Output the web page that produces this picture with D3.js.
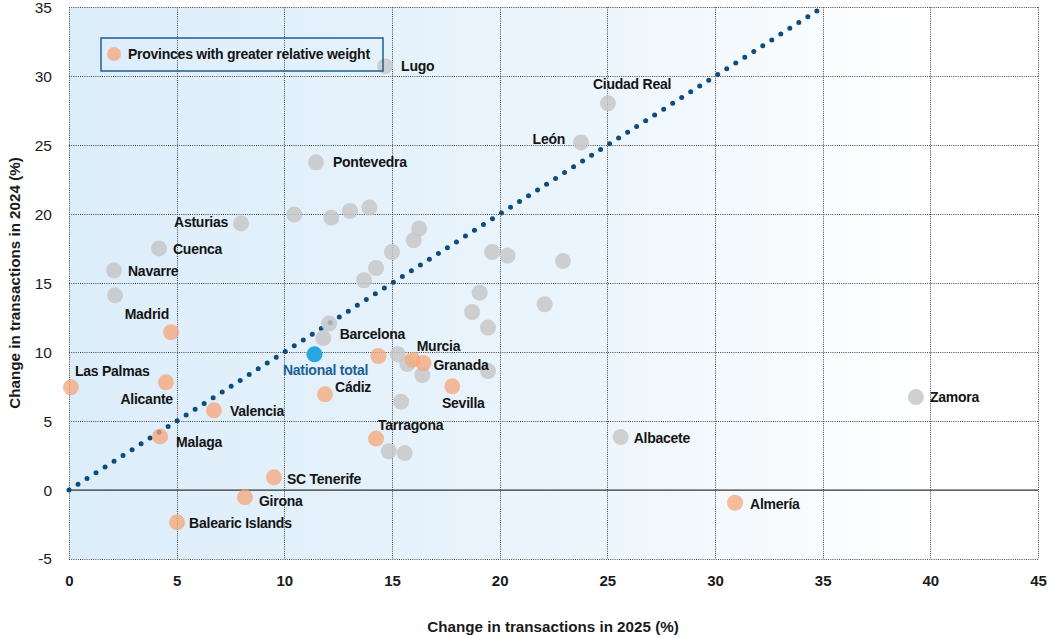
<!DOCTYPE html>
<html>
<head>
<meta charset="utf-8">
<script src="https://cdn.jsdelivr.net/npm/d3@7"></script>
<style>
  body { margin: 0; background: #fff; }
  svg text { font-family: "Liberation Sans", Arial, sans-serif; }
</style>
</head>
<body>
<svg id="chart" width="1047" height="638"></svg>
<script>
// Province names ("" = unlabelled province)
const provinces = [
  "Lugo", "Ciudad Real", "León", "Pontevedra", "Asturias", "Cuenca", "Navarre", "",
  "Madrid", "Las Palmas", "Alicante", "Valencia", "Malaga", "SC Tenerife", "Girona",
  "Balearic Islands", "Cádiz", "Barcelona", "Murcia", "Granada", "Sevilla", "Tarragona",
  "Almería", "Albacete", "Zamora",
  "", "", "", "", "", "", "", "", "", "", "", "", "", "", "", "", "", "", "", "", "", "", "", "", ""
];
// Change in transactions in 2025 (%)
const change2025 = [
  14.68, 25.03, 23.78, 11.47, 7.99, 4.18, 2.09, 2.14,
  4.74, 0.09, 4.50, 6.73, 4.23, 9.52, 8.17,
  5.02, 11.89, 14.37, 15.96, 16.46, 17.80, 14.26,
  30.93, 25.62, 39.33,
  10.46, 12.18, 13.05, 13.95, 16.26, 16.01, 15.00, 14.26, 13.70, 19.65, 20.37, 19.07, 18.72,
  19.46, 22.09, 12.08, 11.81, 15.27, 15.71, 16.41, 19.46, 15.42, 22.94, 14.85, 15.59
];
// Change in transactions in 2024 (%)
const change2024 = [
  30.73, 28.04, 25.20, 23.76, 19.33, 17.52, 15.93, 14.12,
  11.44, 7.45, 7.81, 5.78, 3.89, 0.92, -0.53,
  -2.34, 6.94, 9.72, 9.45, 9.21, 7.52, 3.73,
  -0.92, 3.84, 6.74,
  19.97, 19.75, 20.23, 20.48, 18.96, 18.11, 17.26, 16.10, 15.21, 17.26, 17.00, 14.31, 12.91,
  11.78, 13.47, 12.07, 11.02, 9.84, 9.14, 8.34, 8.63, 6.41, 16.60, 2.81, 2.68
];
// Provinces with greater relative weight
const weighted = [
  false, false, false, false, false, false, false, false,
  true, true, true, true, true, true, true,
  true, true, true, true, true, true, true,
  true, false, false,
  false, false, false, false, false, false, false, false, false, false, false, false, false,
  false, false, false, false, false, false, false, false, false, false, false, false
];
const nationalName = "National total";
const national2025 = 11.40;
const national2024 = 9.84;

const xTicks = [0, 5, 10, 15, 20, 25, 30, 35, 40, 45];
const yTicks = [-5, 0, 5, 10, 15, 20, 25, 30, 35];
const xTitle = "Change in transactions in 2025 (%)";
const yTitle = "Change in transactions in 2024 (%)";
const legendText = "Provinces with greater relative weight";

// Label placement around each point: [dx, dy, anchor]
const labelPlacement = {
  "Lugo": [16, 0, "start"],
  "Ciudad Real": [-15, -19, "start"],
  "León": [-16, -3, "end"],
  "Pontevedra": [17, 0, "start"],
  "Asturias": [-13, -1, "end"],
  "Cuenca": [14, 1, "start"],
  "Navarre": [14, 1, "start"],
  "Madrid": [-2, -18, "end"],
  "Las Palmas": [4, -16, "start"],
  "Alicante": [7, 17, "end"],
  "Valencia": [16, 1, "start"],
  "Malaga": [16, 6, "start"],
  "SC Tenerife": [13, 2, "start"],
  "Girona": [14, 4, "start"],
  "Balearic Islands": [12, 1, "start"],
  "Cádiz": [10, -7, "start"],
  "Barcelona": [-6, -22, "middle"],
  "Murcia": [4, -14, "start"],
  "Granada": [10, 2, "start"],
  "Sevilla": [11, 17, "middle"],
  "Tarragona": [2, -13, "start"],
  "Almería": [15, 1, "start"],
  "Albacete": [13, 1, "start"],
  "Zamora": [14, 0, "start"],
  "National total": [11, 16, "middle"]
};

const svg = d3.select("#chart");
const plotLeft = 69, plotRight = 1038, plotTop = 7.3, plotBottom = 559;
const labelSize = 14, labelSpacing = -0.25;

const x = d3.scaleLinear().domain([0, 45]).range([plotLeft, plotRight]);
const y = d3.scaleLinear().domain([-5, 35]).range([plotBottom, plotTop]);

// Background gradient: light blue fading to white
const defs = svg.append("defs");
const grad = defs.append("linearGradient")
  .attr("id", "bg").attr("gradientUnits", "userSpaceOnUse")
  .attr("x1", x(0)).attr("x2", x(40)).attr("y1", 0).attr("y2", 0);
grad.append("stop").attr("offset", "0%").attr("stop-color", "#dcedfa");
grad.append("stop").attr("offset", "55%").attr("stop-color", "#eaf4fc");
grad.append("stop").attr("offset", "100%").attr("stop-color", "#ffffff");

svg.append("rect")
  .attr("x", plotLeft).attr("y", plotTop)
  .attr("width", plotRight - plotLeft).attr("height", plotBottom - plotTop)
  .attr("fill", "url(#bg)");

// Dotted grid
const grid = svg.append("g").attr("stroke", "#444").attr("stroke-width", 1)
  .attr("stroke-dasharray", "1,1.2");
grid.selectAll("line.v").data(xTicks).join("line").attr("class", "v")
  .attr("x1", d => Math.round(x(d)) + 0.5).attr("x2", d => Math.round(x(d)) + 0.5)
  .attr("y1", plotTop).attr("y2", plotBottom);
grid.selectAll("line.h").data(yTicks.filter(d => d !== 0)).join("line").attr("class", "h")
  .attr("y1", d => Math.round(y(d)) + 0.5).attr("y2", d => Math.round(y(d)) + 0.5)
  .attr("x1", plotLeft).attr("x2", plotRight);

// Zero line
svg.append("line")
  .attr("x1", plotLeft).attr("x2", plotRight)
  .attr("y1", y(0)).attr("y2", y(0))
  .attr("stroke", "#333").attr("stroke-width", 1.3);

// Axes
const plainNumber = d => String(d);
const xAxis = d3.axisBottom(x).tickValues(xTicks).tickFormat(plainNumber).tickSize(0).tickPadding(0);
const gx = svg.append("g").attr("transform", `translate(0,${plotBottom + 22})`).call(xAxis);
gx.select(".domain").remove();
gx.selectAll("text")
  .attr("dy", "0.35em").attr("y", 0)
  .attr("font-size", 15).attr("font-weight", "bold").attr("fill", "#1a1a1a")
  .style("font-family", '"Liberation Sans", Arial, sans-serif');

const yAxis = d3.axisLeft(y).tickValues(yTicks).tickFormat(plainNumber).tickSize(0).tickPadding(0);
const gy = svg.append("g").attr("transform", `translate(${plotLeft - 17},0)`).call(yAxis);
gy.select(".domain").remove();
gy.selectAll("text")
  .attr("font-size", 15.5).attr("fill", "#1a1a1a")
  .style("font-family", '"Liberation Sans", Arial, sans-serif');

// Axis titles
svg.append("text")
  .attr("x", 553).attr("y", 627).attr("dy", "0.35em")
  .attr("text-anchor", "middle").attr("font-size", 15.2).attr("font-weight", "bold")
  .attr("fill", "#1a1a1a").text(xTitle);
svg.append("text")
  .attr("transform", `translate(15,${283}) rotate(-90)`)
  .attr("dy", "0.35em")
  .attr("text-anchor", "middle").attr("font-size", 15.2).attr("font-weight", "bold")
  .attr("fill", "#1a1a1a").text(yTitle);

// 45° reference line (equal change both years)
svg.append("line")
  .attr("x1", x(0)).attr("y1", y(0))
  .attr("x2", x(35)).attr("y2", y(35))
  .attr("stroke", "#0c4d7e").attr("stroke-width", 5)
  .attr("stroke-linecap", "round").attr("stroke-dasharray", "0,10.7");

// Points
const points = provinces.map((name, i) => ({
  name, vx: change2025[i], vy: change2024[i], weighted: weighted[i]
}));
const ordered = points.filter(d => !d.weighted).concat(points.filter(d => d.weighted));

svg.append("g").selectAll("circle").data(ordered).join("circle")
  .attr("cx", d => x(d.vx)).attr("cy", d => y(d.vy)).attr("r", 8)
  .attr("fill", d => d.weighted ? "#f6a678" : "#c6c6c6")
  .attr("fill-opacity", d => d.weighted ? 0.75 : 0.82);

svg.append("circle")
  .attr("cx", x(national2025)).attr("cy", y(national2024)).attr("r", 8)
  .attr("fill", "#2aa6e2");

// Labels
const labelled = points.filter(d => d.name !== "");
svg.append("g").selectAll("text").data(labelled).join("text")
  .attr("x", d => x(d.vx) + labelPlacement[d.name][0])
  .attr("y", d => y(d.vy) + labelPlacement[d.name][1])
  .attr("dy", "0.35em")
  .attr("text-anchor", d => labelPlacement[d.name][2])
  .attr("font-size", labelSize).attr("font-weight", "bold").attr("letter-spacing", labelSpacing)
  .attr("fill", "#141414")
  .text(d => d.name);

const np = labelPlacement[nationalName];
svg.append("text")
  .attr("x", x(national2025) + np[0]).attr("y", y(national2024) + np[1])
  .attr("dy", "0.35em").attr("text-anchor", np[2])
  .attr("font-size", labelSize).attr("font-weight", "bold").attr("letter-spacing", labelSpacing)
  .attr("fill", "#1d5f94").text(nationalName);

// Legend
const legend = svg.append("g");
legend.append("rect")
  .attr("x", 101).attr("y", 38).attr("width", 282).attr("height", 33)
  .attr("fill", "none").attr("stroke", "#1d5f94").attr("stroke-width", 1.5);
legend.append("circle")
  .attr("cx", 114).attr("cy", 54).attr("r", 7)
  .attr("fill", "#f6a678").attr("fill-opacity", 0.75);
legend.append("text")
  .attr("x", 128).attr("y", 54).attr("dy", "0.35em")
  .attr("font-size", labelSize).attr("font-weight", "bold").attr("letter-spacing", labelSpacing)
  .attr("fill", "#141414").text(legendText);
</script>
</body>
</html>
